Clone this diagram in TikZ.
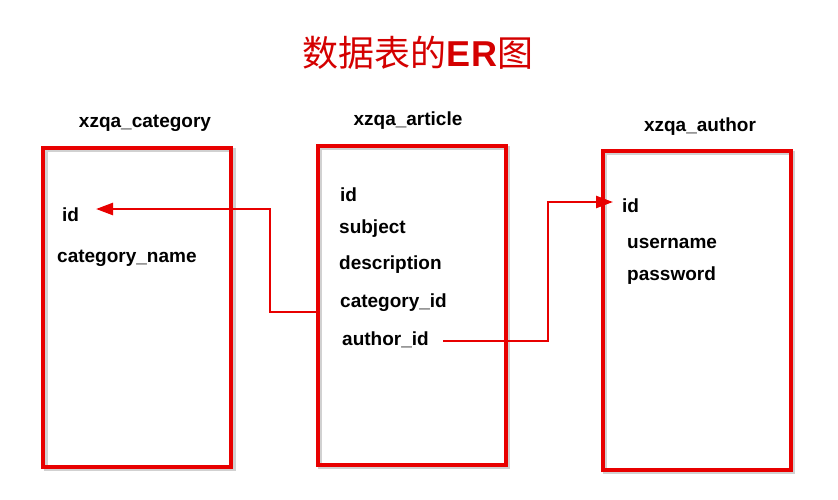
\documentclass[tikz,border=0pt]{standalone}
\usepackage{fontspec}
\setmainfont{Liberation Sans}
\newfontfamily\cjk{Noto Sans CJK SC}
\usetikzlibrary{arrows.meta}
\definecolor{boxred}{RGB}{232,0,0}
\definecolor{titlered}{RGB}{212,0,0}
\tikzset{
  tablebox/.style={draw=boxred, line width=4pt, minimum width=188pt, minimum height=319pt, inner sep=0pt},
  shadowbox/.style={draw=black!18, line width=4pt, minimum width=188pt, minimum height=319pt, inner sep=0pt},
  tablename/.style={font=\fontsize{19}{22}\selectfont\bfseries, inner sep=0pt},
  field/.style={font=\fontsize{19}{22}\selectfont\bfseries, anchor=west, inner sep=0pt},
  link/.style={draw=boxred, line width=2.5pt, -{Triangle[length=17pt,width=12pt]}}
}
\begin{document}
\begin{tikzpicture}[x=1pt,y=-1pt]
\useasboundingbox (0,0) rectangle (838,499);
\fill[white] (0,0) rectangle (838,499);
% shadows
\node[shadowbox] at (139.5,309.5) {};
\node[shadowbox] at (414,307.5) {};
\node[shadowbox] at (699,312.5) {};
% boxes
\node[tablebox] (cat) at (137,307.5) {};
\node[tablebox] (art) at (411.5,305.5) {};
\node[tablebox] (aut) at (696.5,310.5) {};
% title
\node[text=titlered, inner sep=0pt] (title) at (418,53) {\fontsize{36}{40}\selectfont\cjk 数据表的\textbf{\fontspec{Liberation Sans}ER}图};
% table names
\node[tablename] (catname) at (145,123) {xzqa\_category};
\node[tablename] (artname) at (408,121) {xzqa\_article};
\node[tablename] (autname) at (700,127) {xzqa\_author};
% fields
\node[field] (catid) at (62,215) {id};
\node[field] (catnm) at (57,258) {category\_name};
\node[field] (artid) at (340,195) {id};
\node[field] (artsub) at (339,229) {subject};
\node[field] (artdesc) at (339,265) {description};
\node[field] (artcat) at (340,303) {category\_id};
\node[field] (artaut) at (342,340) {author\_id};
\node[field] (autid) at (622,206) {id};
\node[field] (autuser) at (627,243) {username};
\node[field] (autpass) at (627,276) {password};
% connectors
\coordinate (a1s) at (art.west |- 0,312);
\coordinate (a1t) at (96,209);
\coordinate (a2s) at (443,341);
\coordinate (a2t) at (613,202);
\draw[link] (a1s) -- (270,312) -- (270,209) -- (a1t);
\draw[link] (a2s) -- (548,341) -- (548,202) -- (a2t);
\end{tikzpicture}
\end{document}
